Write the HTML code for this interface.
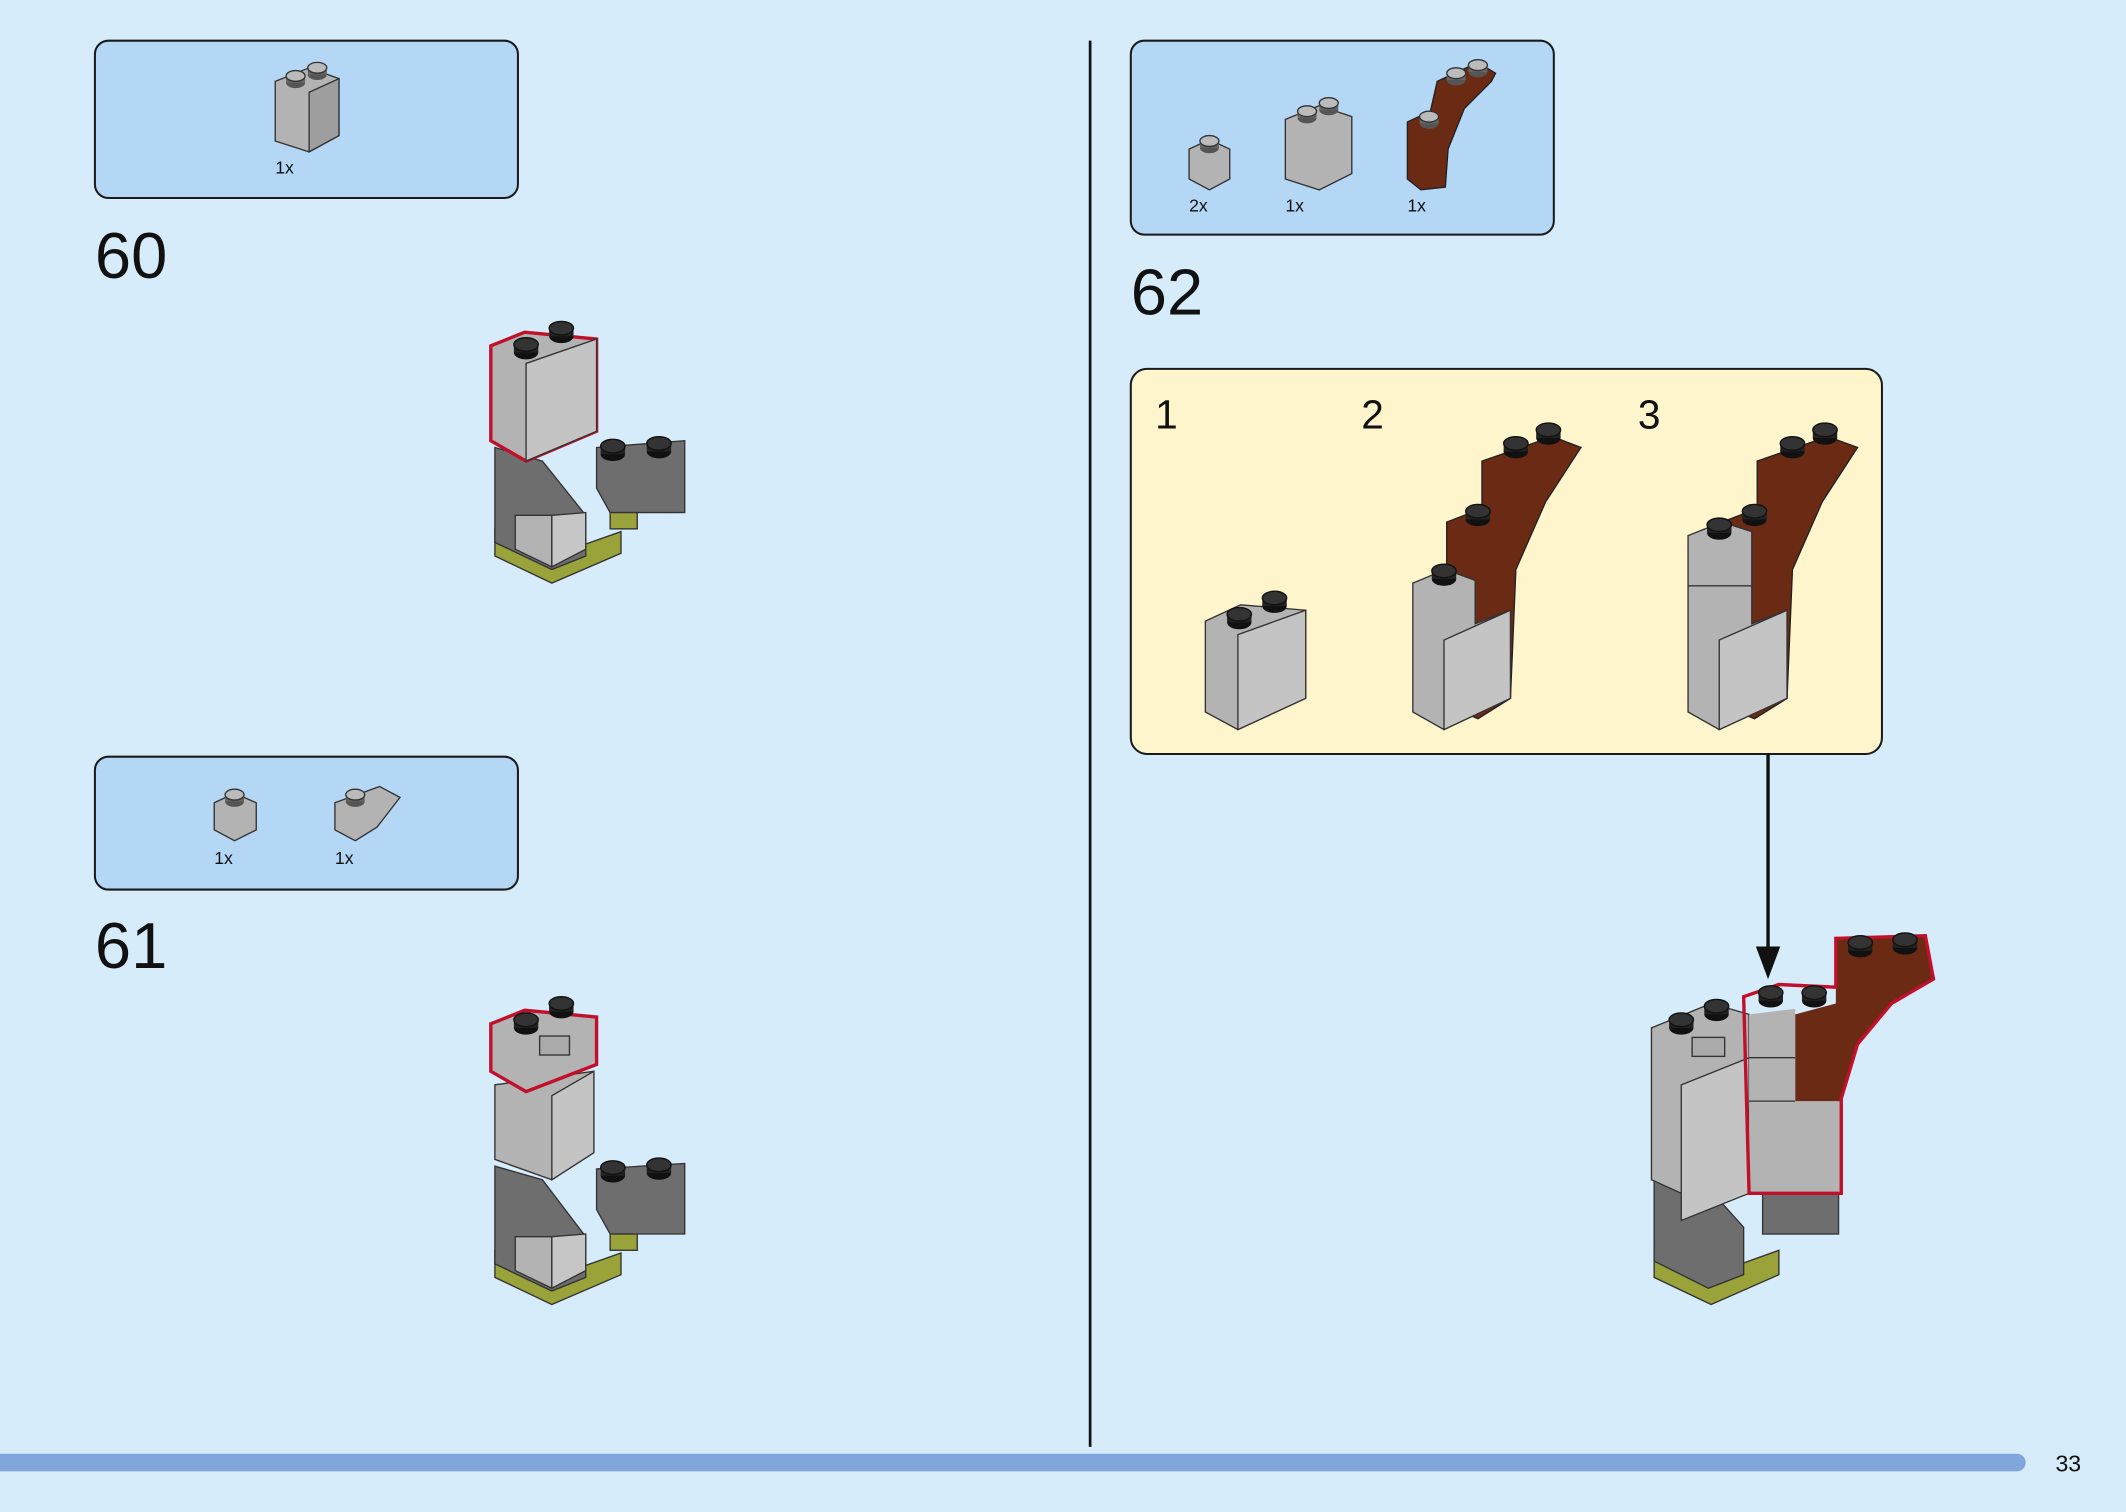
<!DOCTYPE html>
<html><head><meta charset="utf-8"><style>
html,body{margin:0;padding:0;background:#d6ecfa;}
svg{display:block}
text{font-family:"Liberation Sans",sans-serif;fill:#111}
</style></head><body>
<svg width="2126" height="1512" viewBox="0 0 1568 1115" preserveAspectRatio="none" xmlns="http://www.w3.org/2000/svg">
<defs>
<g id="stud"><ellipse cx="0" cy="3" rx="9" ry="5" fill="#111"/><rect x="-9" y="-3" width="18" height="6" fill="#222"/><ellipse cx="0" cy="-3" rx="9" ry="5" fill="#333" stroke="#111"/></g>
<g id="studL"><ellipse cx="0" cy="3" rx="7" ry="4" fill="#555"/><rect x="-7" y="-2" width="14" height="5" fill="#666"/><ellipse cx="0" cy="-2" rx="7" ry="4" fill="#bbb" stroke="#333"/></g>
</defs>
<rect width="1568" height="1115" fill="#d6ecfa"/>
<!-- divider -->
<line x1="804" y1="30" x2="804" y2="1067" stroke="#111" stroke-width="2"/>
<!-- bottom bar -->
<rect x="-10" y="1072" width="1504" height="13" rx="6.5" fill="#80a6dc"/>
<text x="1516" y="1085" font-size="17">33</text>

<!-- Step 60 -->
<rect x="70" y="30" width="312" height="116" rx="10" fill="#b3d7f5" stroke="#1a1a1a" stroke-width="1.5"/>
<polygon points="203,60 228,50 250,58 250,100 228,112 203,104" fill="#b3b3b3" stroke="#333"/>
<polygon points="228,68 250,58 250,100 228,112" fill="#9e9e9e" stroke="#333"/>
<use href="#studL" x="218" y="58"/><use href="#studL" x="234" y="52"/>
<text x="203" y="128" font-size="13">1x</text>
<text x="70" y="205" font-size="48">60</text>

<g>
<polygon points="365,390 407,410 458,392 458,408 407,430 365,410" fill="#9aa23a" stroke="#333"/>
<polygon points="440,330 505,325 505,378 450,378 440,360" fill="#6e6e6e" stroke="#333"/>
<rect x="450" y="378" width="20" height="12" fill="#9aa23a" stroke="#333"/>
<use href="#stud" x="452" y="332"/><use href="#stud" x="486" y="330"/>
<polygon points="365,330 400,340 432,380 432,410 407,420 365,400" fill="#6e6e6e" stroke="#333"/>
<polygon points="380,380 407,380 407,418 380,405" fill="#b3b3b3" stroke="#333"/>
<polygon points="407,380 432,378 432,405 407,418" fill="#c6c6c6" stroke="#333"/>
<polygon points="362,255 387,245 440,250 440,318 388,340 362,325" fill="#b3b3b3" stroke="#c0102a" stroke-width="2.5"/>
<polygon points="388,268 440,250 440,318 388,340" fill="#c4c4c4" stroke="#333"/>
<use href="#stud" x="388" y="257"/><use href="#stud" x="414" y="245"/>
</g>

<!-- Step 61 -->
<rect x="70" y="558" width="312" height="98" rx="10" fill="#b3d7f5" stroke="#1a1a1a" stroke-width="1.5"/>
<polygon points="158,592 173,585 189,592 189,612 173,620 158,612" fill="#b3b3b3" stroke="#333"/>
<use href="#studL" x="173" y="588"/>
<text x="158" y="637" font-size="13">1x</text>
<polygon points="247,592 280,580 295,588 278,610 262,620 247,612" fill="#b3b3b3" stroke="#333"/>
<use href="#studL" x="262" y="588"/>
<text x="247" y="637" font-size="13">1x</text>
<text x="70" y="714" font-size="48">61</text>

<g>
<polygon points="365,922 407,942 458,924 458,940 407,962 365,942" fill="#9aa23a" stroke="#333"/>
<polygon points="440,862 505,858 505,910 450,910 440,892" fill="#6e6e6e" stroke="#333"/>
<rect x="450" y="910" width="20" height="12" fill="#9aa23a" stroke="#333"/>
<use href="#stud" x="452" y="864"/><use href="#stud" x="486" y="862"/>
<polygon points="365,860 400,870 432,912 432,942 407,952 365,932" fill="#6e6e6e" stroke="#333"/>
<polygon points="380,912 407,912 407,950 380,937" fill="#b3b3b3" stroke="#333"/>
<polygon points="407,912 432,910 432,937 407,950" fill="#c6c6c6" stroke="#333"/>
<polygon points="365,800 438,790 438,850 407,870 365,855" fill="#b3b3b3" stroke="#333"/>
<polygon points="407,808 438,790 438,850 407,870" fill="#c4c4c4" stroke="#333"/>
<polygon points="362,755 387,745 440,750 440,785 388,805 362,790" fill="#b3b3b3" stroke="#c0102a" stroke-width="2.5"/>
<use href="#stud" x="388" y="755"/><use href="#stud" x="414" y="743"/>
<rect x="398" y="764" width="22" height="14" fill="#aaa" stroke="#333"/>
</g>

<!-- Step 62 -->
<rect x="834" y="30" width="312" height="143" rx="10" fill="#b3d7f5" stroke="#1a1a1a" stroke-width="1.5"/>
<polygon points="877,110 892,103 907,110 907,132 892,140 877,132" fill="#b3b3b3" stroke="#333"/>
<use href="#studL" x="892" y="106"/>
<text x="877" y="156" font-size="13">2x</text>
<polygon points="948,88 973,78 997,86 997,128 973,140 948,132" fill="#b3b3b3" stroke="#333"/>
<use href="#studL" x="964" y="84"/><use href="#studL" x="980" y="78"/>
<text x="948" y="156" font-size="13">1x</text>
<polygon points="1038,90 1055,82 1060,60 1090,46 1103,54 1100,60 1080,80 1068,110 1066,138 1048,140 1038,132" fill="#6b2a14" stroke="#222"/>
<use href="#studL" x="1054" y="88"/><use href="#studL" x="1074" y="56"/><use href="#studL" x="1090" y="50"/>
<text x="1038" y="156" font-size="13">1x</text>
<text x="834" y="232" font-size="48">62</text>

<rect x="834" y="272" width="554" height="284" rx="12" fill="#fff5cc" stroke="#1a1a1a" stroke-width="1.5"/>
<text x="852" y="316" font-size="30">1</text>
<text x="1004" y="316" font-size="30">2</text>
<text x="1208" y="316" font-size="30">3</text>

<!-- sub 1 -->
<polygon points="889,458 915,446 963,450 963,515 913,538 889,525" fill="#b3b3b3" stroke="#333"/>
<polygon points="913,468 963,450 963,515 913,538" fill="#c4c4c4" stroke="#333"/>
<use href="#stud" x="914" y="456"/><use href="#stud" x="940" y="444"/>
<!-- sub 2 -->
<polygon points="1067,385 1093,375 1093,340 1145,322 1166,330 1140,370 1118,420 1114,515 1090,530 1067,520" fill="#6b2a14" stroke="#222"/>
<use href="#stud" x="1090" y="380"/><use href="#stud" x="1118" y="330"/><use href="#stud" x="1142" y="320"/>
<polygon points="1042,430 1066,420 1088,428 1088,460 1114,450 1114,515 1065,538 1042,525" fill="#b3b3b3" stroke="#333"/>
<polygon points="1065,472 1114,450 1114,515 1065,538" fill="#c4c4c4" stroke="#333"/>
<use href="#stud" x="1065" y="424"/>
<!-- sub 3 -->
<polygon points="1270,385 1296,375 1296,340 1348,322 1370,330 1344,370 1322,420 1318,515 1294,530 1270,520" fill="#6b2a14" stroke="#222"/>
<use href="#stud" x="1294" y="380"/><use href="#stud" x="1322" y="330"/><use href="#stud" x="1346" y="320"/>
<polygon points="1245,395 1270,385 1292,392 1292,460 1318,450 1318,515 1268,538 1245,525" fill="#b3b3b3" stroke="#333"/>
<line x1="1245" y1="432" x2="1292" y2="432" stroke="#333"/>
<polygon points="1268,472 1318,450 1318,515 1268,538" fill="#c4c4c4" stroke="#333"/>
<use href="#stud" x="1268" y="390"/>

<!-- arrow -->
<line x1="1304" y1="556" x2="1304" y2="705" stroke="#111" stroke-width="2.5"/>
<polygon points="1295,698 1313,698 1304,722" fill="#111"/>

<!-- main model 62 -->
<g>
<polygon points="1220,920 1262,940 1312,922 1312,940 1262,962 1220,942" fill="#9aa23a" stroke="#333"/>
<rect x="1300" y="875" width="56" height="35" fill="#6e6e6e" stroke="#333"/>
<polygon points="1220,855 1250,865 1286,905 1286,940 1260,950 1220,930" fill="#6e6e6e" stroke="#333"/>
<polygon points="1218,758 1262,740 1290,748 1290,880 1262,890 1218,870" fill="#b3b3b3" stroke="#333"/>
<polygon points="1240,800 1290,780 1290,880 1240,900" fill="#c4c4c4" stroke="#333"/>
<use href="#stud" x="1240" y="755"/><use href="#stud" x="1266" y="745"/>
<rect x="1248" y="765" width="24" height="14" fill="#aaa" stroke="#333"/>
<polygon points="1324,748 1354,740 1354,692 1420,690 1426,722 1395,740 1370,770 1358,810 1358,880 1324,880" fill="#6b2a14"/>
<polygon points="1290,748 1324,744 1324,812 1358,812 1358,880 1290,880" fill="#b3b3b3"/>
<line x1="1290" y1="780" x2="1324" y2="780" stroke="#333"/>
<line x1="1290" y1="812" x2="1324" y2="812" stroke="#333"/>
<polygon points="1286,735 1312,726 1354,728 1354,692 1420,690 1426,722 1395,740 1370,770 1358,810 1358,880 1290,880" fill="none" stroke="#c0102a" stroke-width="2.5"/>
<use href="#stud" x="1306" y="735"/><use href="#stud" x="1338" y="735"/>
<use href="#stud" x="1372" y="698"/><use href="#stud" x="1405" y="696"/>
</g>
</svg>
</body></html>
